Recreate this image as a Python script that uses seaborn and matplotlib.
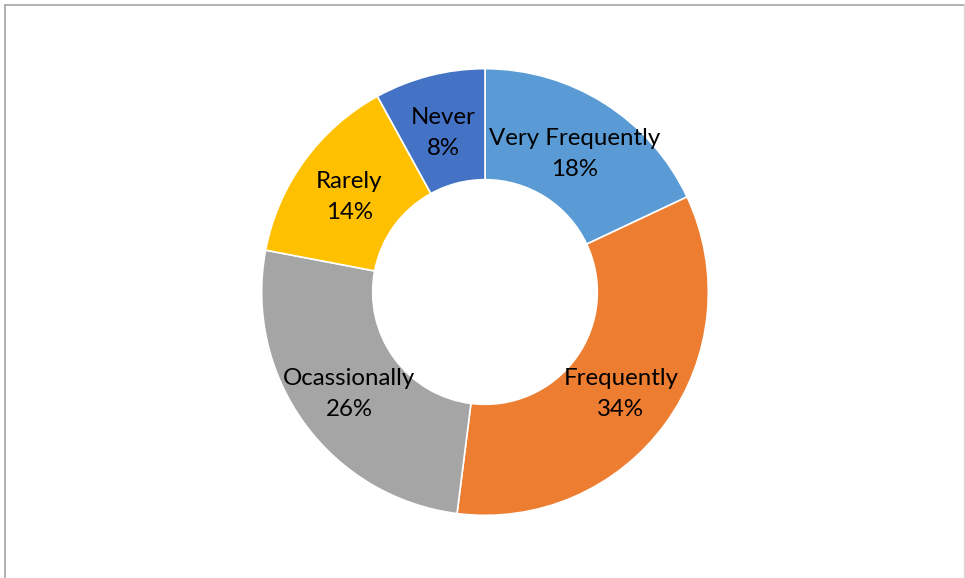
import matplotlib
matplotlib.use("Agg")
import matplotlib.pyplot as plt
from matplotlib.lines import Line2D
import seaborn as sns

categories = ["Very Frequently", "Frequently", "Ocassionally", "Rarely", "Never"]
shares = [18, 34, 26, 14, 8]
colors = ["#5B9BD5", "#ED7D31", "#A5A5A5", "#FFC000", "#4472C4"]

sns.set_theme(style="white")
plt.rcParams["font.family"] = ["Lato", "DejaVu Sans"]

W, H = 965, 578
cx, cy, R = 485, 292, 222
fig = plt.figure(figsize=(W / 100, H / 100), dpi=100)
ax = fig.add_axes([0, 0, 1, 1])

wedges, texts = ax.pie(
    shares,
    colors=colors,
    startangle=90,
    counterclock=False,
    radius=1.006,
    wedgeprops=dict(width=0.5, edgecolor="white", linewidth=1.2),
    labels=[f"{c}\n{v}%" for c, v in zip(categories, shares)],
    labeldistance=0.752,
    textprops=dict(fontsize=17.3, color="black", ha="center", va="center", linespacing=1.58),
    frame=True,
)
# nudge the two-line labels slightly downward so they sit centred in the ring
for t in texts:
    x, y = t.get_position()
    t.set_position((x, y - 3.5 / R))

ax.set_xlim(-cx / R, (W - cx) / R)
ax.set_ylim(-(H - cy) / R, cy / R)
ax.set_aspect("auto")
ax.axis("off")

# chart area border
fig.add_artist(Line2D([4.5 / W, 964 / W], [1 - 4.5 / H, 1 - 4.5 / H], color="#A6A6A6", lw=1.2, transform=fig.transFigure))
fig.add_artist(Line2D([4.5 / W, 4.5 / W], [0, 1 - 4.5 / H], color="#A6A6A6", lw=1.2, transform=fig.transFigure))
fig.add_artist(Line2D([964 / W, 964 / W], [0, 1 - 4.5 / H], color="#D9D9D9", lw=1.0, transform=fig.transFigure))

fig.savefig("out.png", dpi=100, facecolor="white")
